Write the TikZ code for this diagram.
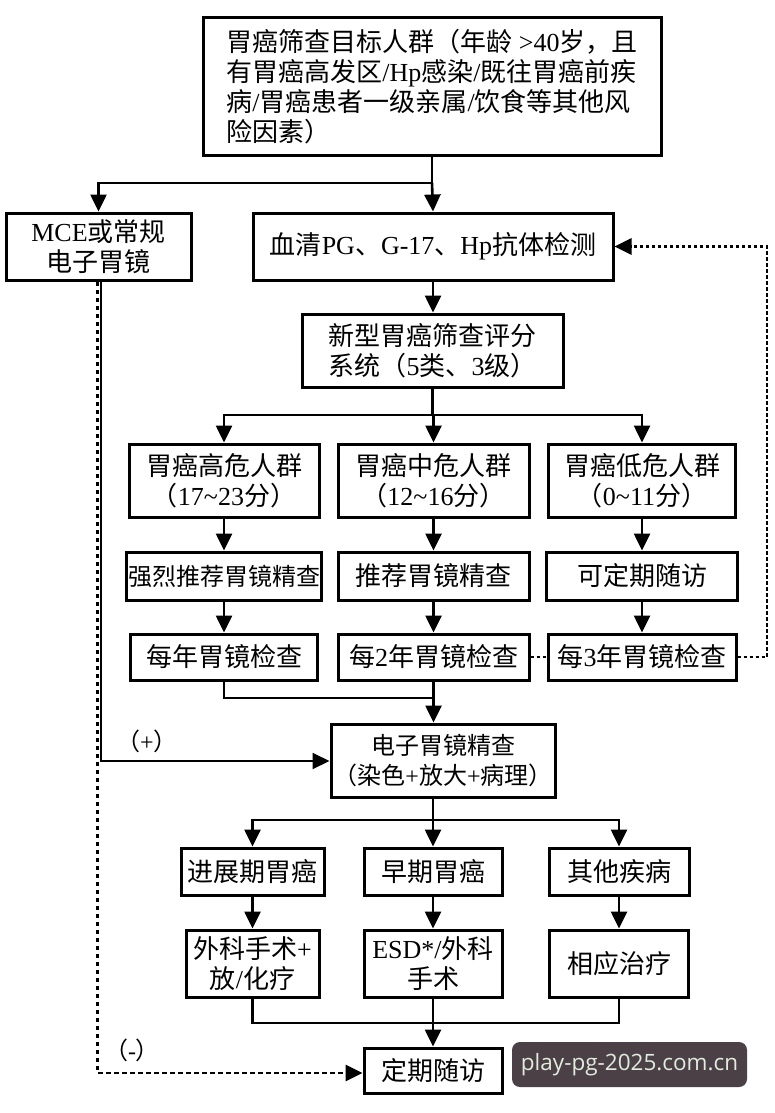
\documentclass[tikz,border=0pt]{standalone}
\usepackage{fontspec}
\setmainfont{Liberation Serif}
\newfontfamily\cjk{Noto Sans CJK SC}
\newfontfamily\wmfont{Open Sans}
\usetikzlibrary{arrows.meta}
\newcommand\ltn[1]{{\rmfamily #1}}

\begin{document}
\begin{tikzpicture}[
  x=1pt, y=-1pt,
  font=\cjk\fontsize{26}{30}\selectfont,
  >={Triangle[length=17pt,width=16pt]},
  box/.style={draw, line width=3pt, align=center, inner sep=1pt},
  small/.style={font=\cjk\fontsize{24}{30}\selectfont},
  link/.style={line width=2.6pt},
  flow/.style={line width=2.6pt, ->},
  back/.style={line width=2.8pt, dash pattern=on 3.5pt off 2.5pt},
  neg/.style={line width=2.8pt, dash pattern=on 4.5pt off 3.5pt, ->},
  sign/.style={font=\cjk\fontsize{24}{28}\selectfont},
  wm/.style={fill=wmgray, rounded corners=8pt, text=wmtext, font=\wmfont\fontsize{22.5}{26}\selectfont}
]
\definecolor{wmgray}{RGB}{74,64,69}
\definecolor{wmtext}{RGB}{226,236,222}
\useasboundingbox (0,0) rectangle (774,1113);

% column positions (x)
\def\xA{224}
\def\xB{433.5}
\def\xC{642}

% Screening entry
\node[box, minimum width=458, minimum height=137, align=left] (target) at (432,86.5)
  {胃癌筛查目标人群（年龄\ltn{ >40}岁，且\\
   有胃癌高发区\ltn{/Hp}感染\ltn{/}既往胃癌前疾\\
   病\ltn{/}胃癌患者一级亲属\ltn{/}饮食等其他风\\
   险因素）};
\node[box, minimum width=185, minimum height=67] (mce) at (98.5,246.5) {\ltn{MCE}或常规\\电子胃镜};
\node[box, minimum width=360, minimum height=67] (blood) at (433,246.5)
  {血清\ltn{PG}、\ltn{G-17}、\ltn{Hp}抗体检测};
\node[box, minimum width=261, minimum height=73] (score) at (432.5,350.5)
  {新型胃癌筛查评分\\系统（\ltn{5}类、\ltn{3}级）};

% Risk groups
\node[box, minimum width=190, minimum height=73] (high) at (\xA,480.5)
  {胃癌高危人群\\（\ltn{17\textasciitilde 23}分）};
\node[box, minimum width=191, minimum height=73] (mid) at (\xB,480.5)
  {胃癌中危人群\\（\ltn{12\textasciitilde 16}分）};
\node[box, minimum width=187, minimum height=73] (low) at (\xC,480.5)
  {胃癌低危人群\\（\ltn{0\textasciitilde 11}分）};

\node[box, small, minimum width=195, minimum height=48] (strong) at (\xA,576) {强烈推荐胃镜精查};
\node[box, minimum width=191, minimum height=48] (rec) at (\xB,576) {推荐胃镜精查};
\node[box, minimum width=191, minimum height=48] (follow) at (\xC,576) {可定期随访};

\node[box, minimum width=187, minimum height=46] (yr1) at (\xA,657) {每年胃镜检查};
\node[box, minimum width=191, minimum height=46] (yr2) at (\xB,657) {每\ltn{2}年胃镜检查};
\node[box, minimum width=188, minimum height=46] (yr3) at (\xC,657) {每\ltn{3}年胃镜检查};

% Endoscopy and outcomes
\node[box, small, minimum width=224, minimum height=73] (fine) at (443,760.5)
  {电子胃镜精查\\（染色\ltn{+}放大\ltn{+}病理）};

\node[box, minimum width=143, minimum height=47] (adv) at (252.5,871.5) {进展期胃癌};
\node[box, minimum width=138, minimum height=47] (early) at (433,871.5) {早期胃癌};
\node[box, minimum width=140, minimum height=47] (other) at (619,871.5) {其他疾病};

\node[box, minimum width=133, minimum height=67] (surg) at (252.5,963.5) {外科手术\ltn{+}\\放\ltn{/}化疗};
\node[box, minimum width=138, minimum height=67] (esd) at (433,963.5) {\ltn{ESD*/}外科\\手术};
\node[box, minimum width=139, minimum height=67] (treat) at (619,963.5) {相应治疗};

\node[box, minimum width=138, minimum height=45] (last) at (433,1070.5) {定期随访};

% Junctions
\coordinate (j1) at (432,183);
\coordinate (j2) at (432.5,415);
\coordinate (j3) at (433.5,698);
\coordinate (j4) at (433,820);
\coordinate (j5) at (433,1023);
\coordinate (pos) at (100.5,761);
\coordinate (negc) at (97.5,1073);
\coordinate (loop) at (767,0);

% Connectors
\draw[link] (target.south) -- (j1);
\draw[flow] (j1) -| (mce.north);
\draw[flow] (j1) -- (blood.north);
\draw[flow] (blood.south) -- (blood.south |- score.north);
\draw[link] (score.south) -- (j2);
\foreach \n in {high,mid,low}
  \draw[flow] (j2) -| (\n.north);
\draw[flow] (high) -- (strong);
\draw[flow] (mid) -- (rec);
\draw[flow] (low) -- (follow);
\draw[flow] (strong) -- (yr1);
\draw[flow] (rec) -- (yr2);
\draw[flow] (follow) -- (yr3);
\draw[link] (yr1.south) |- (j3);
\draw[link] (yr2.south) -- (j3);
\draw[flow] (j3) -- (j3 |- fine.north);

% Feedback from 3-year group
\draw[back] (yr2.east) -- (yr3.west);
\draw[back, ->] (yr3.east) -| (loop |- blood.east) -- (blood.east);

% Endoscopy result branches
\draw[flow, line width=2pt] (mce.south -| pos) -- (pos) -- (pos -| fine.west);
\node[sign] (plus) at (147,741) {（\ltn{+}）};
\draw[neg] (mce.south -| negc) -- (negc) -- (negc -| last.west);
\node[sign] (minus) at (132,1050) {（\ltn{-}）};

\draw[link] (fine.south -| j4) -- (j4);
\foreach \n in {adv,early,other}
  \draw[flow] (j4) -| (\n.north);
\draw[flow] (adv) -- (surg);
\draw[flow] (early) -- (esd);
\draw[flow] (other) -- (treat);
\draw[link] (surg.south) |- (j5);
\draw[link] (treat.south) |- (j5);
\draw[flow] (esd.south) -- (last.north);

\node[wm, minimum width=235, minimum height=45] (mark) at (629.5,1064.5) {play-pg-2025.com.cn};
\end{tikzpicture}
\end{document}
